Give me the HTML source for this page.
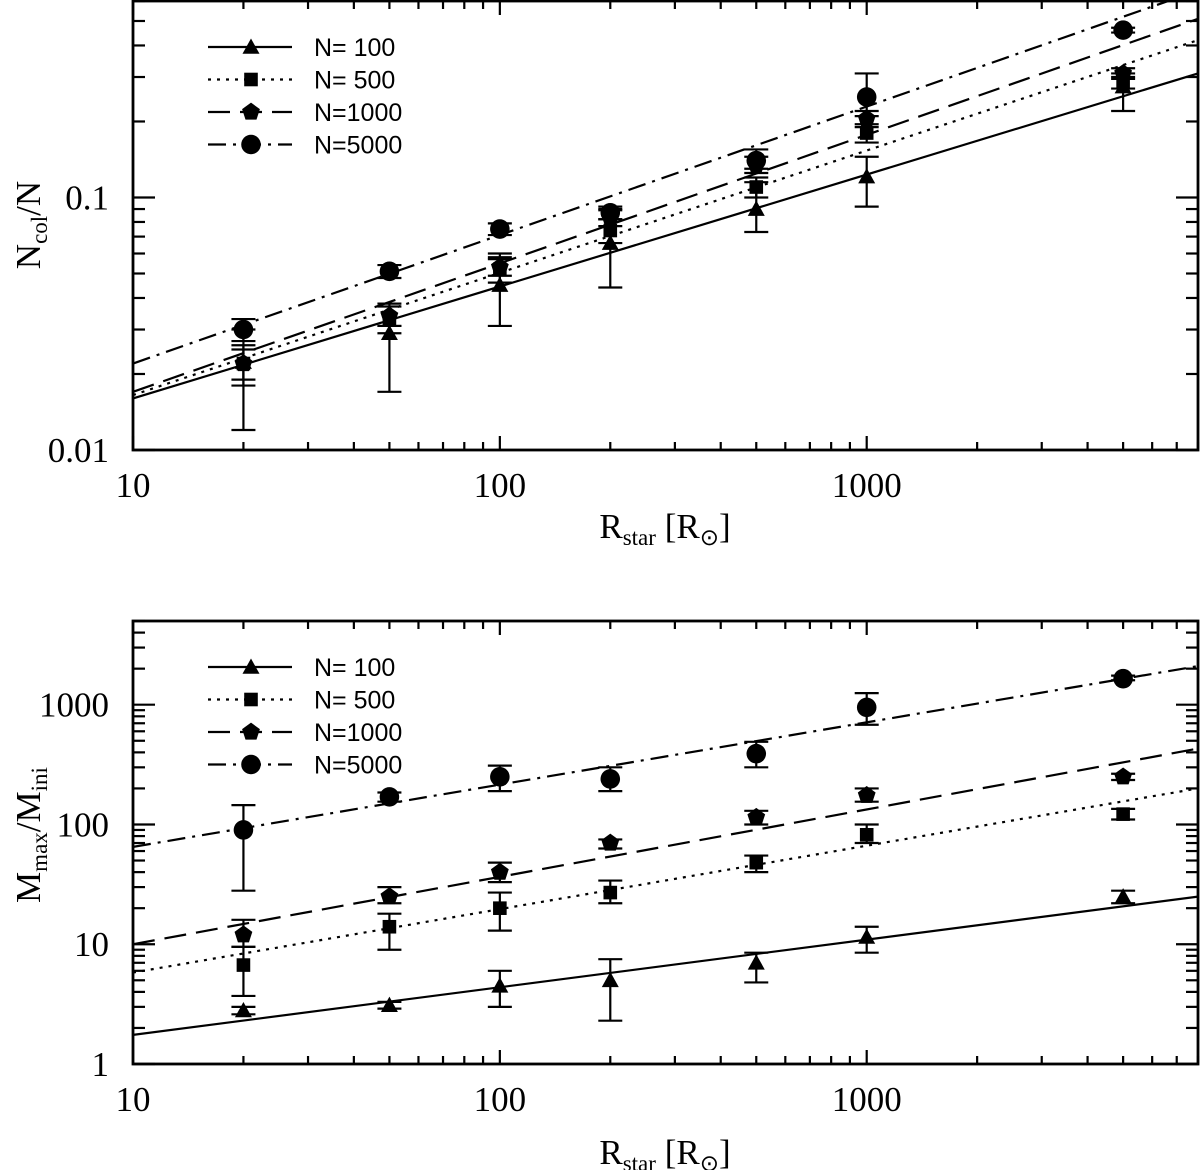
<!DOCTYPE html>
<html><head><meta charset="utf-8"><style>
body{margin:0;background:#fff}
svg text{fill:#000}
.ax{font-family:"Liberation Serif",serif;font-size:35px}
.lg{font-family:"Liberation Sans",sans-serif;font-size:25px}
</style></head><body>
<svg id="c" width="1200" height="1170" xmlns="http://www.w3.org/2000/svg"></svg>
<script>
const radii=[20,50,100,200,500,1000,5000];
const seriesLabels=["N= 100","N= 500","N=1000","N=5000"];
// top panel: Ncol/N
const topN100=[0.0223,0.029,0.045,0.066,0.09,0.121,0.275];
const topN100Lo=[0.012,0.017,0.031,0.044,0.073,0.092,0.22];
const topN100Hi=[0.03,0.031,0.06,0.09,0.115,0.145,0.3];
const topN500=[0.022,0.033,0.052,0.074,0.11,0.18,0.29];
const topN500Lo=[0.018,0.029,0.046,0.066,0.1,0.165,0.27];
const topN500Hi=[0.026,0.038,0.058,0.082,0.12,0.195,0.31];
const topN1000=[0.022,0.034,0.053,0.083,0.135,0.205,0.31];
const topN1000Lo=[0.019,0.031,0.049,0.077,0.125,0.19,0.295];
const topN1000Hi=[0.025,0.037,0.057,0.089,0.145,0.22,0.325];
const topN5000=[0.030,0.051,0.075,0.087,0.14,0.25,0.46];
const topN5000Lo=[0.027,0.048,0.071,0.082,0.13,0.21,0.45];
const topN5000Hi=[0.033,0.054,0.079,0.092,0.155,0.31,0.47];
const topFitStart=[0.016,0.0165,0.017,0.022];
const topFitEnd=[0.31,0.42,0.51,0.66];
// bottom panel: Mmax/Mini
const botN100=[2.8,3.1,4.5,5,7,11.5,25];
const botN100Lo=[2.6,2.9,3,2.3,4.8,8.5,22];
const botN100Hi=[3.0,3.3,6,7.5,8.5,14,28];
const botN500=[6.7,14,20,27,48,82,122];
const botN500Lo=[3.7,9,13,22,40,70,110];
const botN500Hi=[9.5,18,27,34,55,100,135];
const botN1000=[12,25,40,70,115,175,250];
const botN1000Lo=[9.5,22,33,63,100,155,235];
const botN1000Hi=[16,30,48,75,130,200,265];
const botN5000=[90,170,250,240,390,950,1650];
const botN5000Lo=[28,155,190,190,300,680,1600];
const botN5000Hi=[145,185,310,300,490,1250,1750];
const botFitStart=[1.75,5.8,10,65];
const botFitEnd=[25,200,430,2100];
const xFitStart=10, xFitEnd=8000;
const topYTicks=[0.01,0.1];
const topYLabels=["0.01","0.1"];
const botYTicks=[1,10,100,1000];
const botYLabels=["1","10","100","1000"];
const xTicks=[10,100,1000];
const xLabels=["10","100","1000"];

const NS="http://www.w3.org/2000/svg";
const svg=document.getElementById('c');
function mk(tag,attrs,parent){const e=document.createElementNS(NS,tag);for(const k in attrs)e.setAttribute(k,attrs[k]);(parent||svg).appendChild(e);return e;}
const dashes=["","3,6","22,10","18,7,3,7"];

function marker(g,k,x,y,s){
  let e;
  if(k===0){e=mk('polygon',{points:`${x},${y-s} ${x+s},${y+s*0.8} ${x-s},${y+s*0.8}`},g);}
  else if(k===1){e=mk('rect',{x:x-s*0.8,y:y-s*0.8,width:s*1.6,height:s*1.6},g);}
  else if(k===2){let p=[];for(let i=0;i<5;i++){const a=-Math.PI/2+i*2*Math.PI/5;p.push((x+s*1.1*Math.cos(a))+","+(y+s*1.1*Math.sin(a)));}e=mk('polygon',{points:p.join(' ')},g);}
  else {e=mk('circle',{cx:x,cy:y,r:s*1.15},g);}
  e.setAttribute('fill','#000');
  return e;
}

function panel(cfg){
  const g=mk('g',{});
  
  
  const L=133,R=1198,T=cfg.top,B=cfg.bottom;
  const xl0=1,xl1=Math.log10(8000);
  const X=v=>L+(Math.log10(v)-xl0)/(xl1-xl0)*(R-L);
  const Y=v=>B-(Math.log10(v)-cfg.ymin)/(cfg.ymax-cfg.ymin)*(B-T);
  const clip=mk('clipPath',{id:cfg.name+'-clip'},g);
  mk('rect',{x:L,y:T,width:R-L,height:B-T},clip);
  for(let k=0;k<4;k++){
    const l=mk('line',{x1:X(xFitStart),y1:Y(cfg.fs[k]),x2:X(xFitEnd),y2:Y(cfg.fe[k]),stroke:'#000','stroke-width':2.2,'stroke-dasharray':dashes[k],'clip-path':`url(#${cfg.name}-clip)`},g);
    
    
  }
  for(let k=0;k<4;k++){
    const sg=mk('g',{},g);
    
    
    const [v,lo,hi]=cfg.data[k];
    for(let i=0;i<radii.length;i++){
      const x=X(radii[i]);
      mk('line',{x1:x,y1:Y(lo[i]),x2:x,y2:Y(hi[i]),stroke:'#000','stroke-width':2.2},sg);
      mk('line',{x1:x-12,y1:Y(lo[i]),x2:x+12,y2:Y(lo[i]),stroke:'#000','stroke-width':2.2},sg);
      mk('line',{x1:x-12,y1:Y(hi[i]),x2:x+12,y2:Y(hi[i]),stroke:'#000','stroke-width':2.2},sg);
      const m=marker(sg,k,x,Y(v[i]),8.5);
      
      
    }
  }
  const fr=mk('rect',{x:L,y:T,width:R-L,height:B-T,fill:'none',stroke:'#000','stroke-width':2.8},g);
  
  
  for(let d=1;d<=3;d++)for(let m=1;m<=9;m++){
    const v=m*Math.pow(10,d);if(v>8000)continue;
    const x=X(v),len=m===1?14:8;
    mk('line',{x1:x,y1:B,x2:x,y2:B-len,stroke:'#000','stroke-width':2.2},g);
    mk('line',{x1:x,y1:T,x2:x,y2:T+len,stroke:'#000','stroke-width':2.2},g);
  }
  xTicks.forEach((v,i)=>{
    const t=mk('text',{x:X(v),y:B+47,'text-anchor':'middle',class:'ax'},g);t.textContent=xLabels[i];
    
    
  });
  for(let d=Math.floor(cfg.ymin);d<=Math.ceil(cfg.ymax);d++)for(let m=1;m<=9;m++){
    const lv=d+Math.log10(m);if(lv<cfg.ymin-1e-6||lv>cfg.ymax)continue;
    const y=Y(Math.pow(10,lv)),len=m===1?22:12;
    mk('line',{x1:L,y1:y,x2:L+len,y2:y,stroke:'#000','stroke-width':2.2},g);
    mk('line',{x1:R,y1:y,x2:R-len,y2:y,stroke:'#000','stroke-width':2.2},g);
  }
  cfg.yt.forEach((v,i)=>{
    const t=mk('text',{x:L-24,y:Y(v)+12,'text-anchor':'end',class:'ax'},g);t.textContent=cfg.yl[i];
    
    
  });
  const xt=mk('text',{x:665,y:B+cfg.xtOff,'text-anchor':'middle',class:'ax'},g);
  xt.innerHTML='R<tspan font-size="23" dy="7">star</tspan><tspan dy="-7"> [R</tspan><tspan font-size="23" dy="7">⊙</tspan><tspan dy="-7">]</tspan>';
  
  
  const yt=mk('text',{transform:`translate(40,${cfg.ytY}) rotate(-90)`,'text-anchor':'middle',class:'ax'},g);
  yt.innerHTML=cfg.ytitle;
  
  
  const lg=mk('g',{},g);
  
  
  for(let k=0;k<4;k++){
    const y=cfg.legY+k*32.5;
    const en=mk('g',{},lg);
    
    
    mk('line',{x1:208,y1:y,x2:292,y2:y,stroke:'#000','stroke-width':2.2,'stroke-dasharray':dashes[k]},en);
    marker(en,k,251,y,8.5);
    const t=mk('text',{x:314,y:y+9,class:'lg'},en);t.textContent=seriesLabels[k];
  }
}

panel({name:'collisions-panel',top:1,bottom:450,ymin:-2,ymax:Math.log10(0.6),
  fs:topFitStart,fe:topFitEnd,
  data:[[topN100,topN100Lo,topN100Hi],[topN500,topN500Lo,topN500Hi],[topN1000,topN1000Lo,topN1000Hi],[topN5000,topN5000Lo,topN5000Hi]],
  yt:topYTicks,yl:topYLabels,xtOff:88,ytY:225,legY:47,
  ytitle:'N<tspan font-size="23" dy="7">col</tspan><tspan dy="-7">/N</tspan>'});
panel({name:'mass-panel',top:621,bottom:1064,ymin:0,ymax:Math.log10(5000),
  fs:botFitStart,fe:botFitEnd,
  data:[[botN100,botN100Lo,botN100Hi],[botN500,botN500Lo,botN500Hi],[botN1000,botN1000Lo,botN1000Hi],[botN5000,botN5000Lo,botN5000Hi]],
  yt:botYTicks,yl:botYLabels,xtOff:100,ytY:835,legY:667,
  ytitle:'M<tspan font-size="23" dy="7">max</tspan><tspan dy="-7">/M</tspan><tspan font-size="23" dy="7">ini</tspan>'});
</script>
</body></html>
